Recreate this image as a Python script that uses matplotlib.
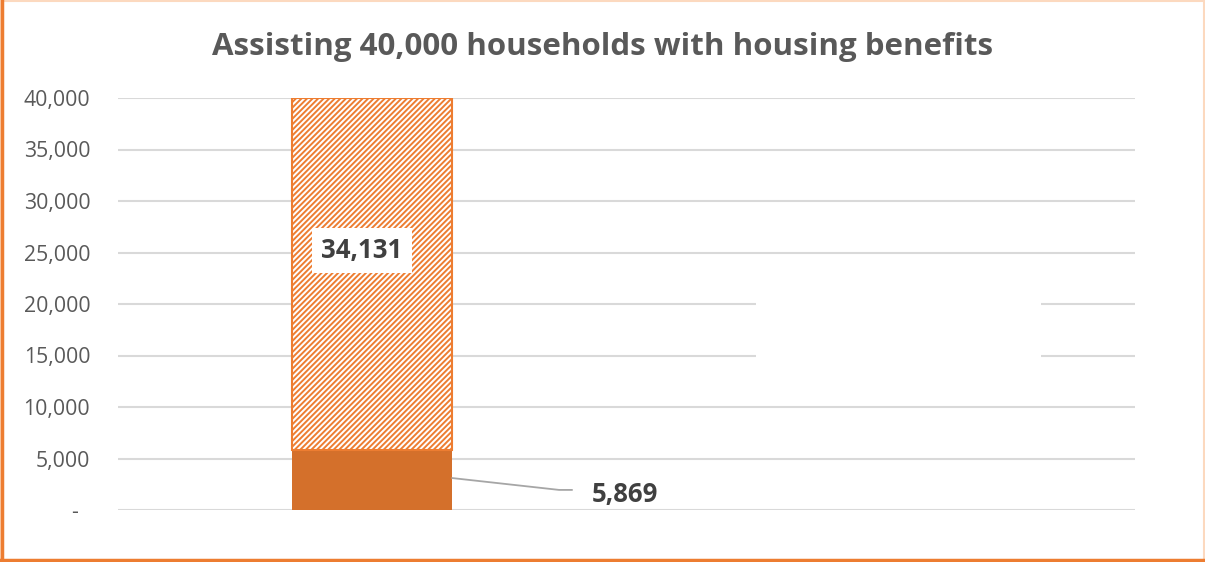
import matplotlib
matplotlib.use("Agg")
import matplotlib.pyplot as plt
from matplotlib.patches import Rectangle

categories = ["Assisted", ""]
assisted = [5869, 0]
remaining = [34131, 0]
yticks = [0, 5000, 10000, 15000, 20000, 25000, 30000, 35000, 40000]
ytick_labels = ["-\u00a0\u00a0", "5,000", "10,000", "15,000", "20,000", "25,000", "30,000", "35,000", "40,000"]
title = "Assisting 40,000 households with housing benefits"

plt.rcParams['font.family'] = ['Open Sans', 'DejaVu Sans']
plt.rcParams['hatch.linewidth'] = 1.4

W, H = 1205, 562
fig = plt.figure(figsize=(W / 100, H / 100), dpi=100)
ax = fig.add_axes([118 / W, 1 - 510 / H, (1135 - 118) / W, (510 - 98) / H])

x = list(range(len(categories)))
solid = "#D4702B"
light = "#ED7D31"
bw = 0.315
ax.bar(x[:1], assisted[:1], width=bw, color=solid, zorder=3)
ax.bar(x[:1], remaining[:1], bottom=assisted[:1], width=bw, facecolor="white",
       edgecolor=light, hatch="//////", linewidth=1.5, zorder=3)

ax.set_xlim(-0.5, 1.5)
ax.set_ylim(0, 40000)
ax.set_yticks(yticks)
ax.set_yticklabels(ytick_labels, color="#595959", fontsize=15.3)
ax.set_xticks([])
ax.tick_params(axis='y', length=0, pad=20)
for s in ax.spines.values():
    s.set_visible(False)
ax.yaxis.grid(True, color="#D9D9D9", linewidth=1.5, zorder=0)
ax.set_axisbelow(True)

# hidden box interrupting gridlines
ax.add_patch(Rectangle((0.755, 12000), 0.56, 11000, facecolor="white", edgecolor="none", zorder=1))

# label for remaining
ax.text(x[0] - 0.02, assisted[0] + remaining[0] / 2 + 2300, f"{remaining[0]:,}", ha="center", va="center",
        fontsize=18.5, fontweight="bold", color="#404040", zorder=5,
        bbox=dict(facecolor="white", edgecolor="none", boxstyle="square,pad=0.35"))

# label for assisted with leader line
x0 = x[0] + bw / 2
ax.plot([x0, x0 + 0.21, x0 + 0.235], [3100, 1950, 1950], color="#A6A6A6", linewidth=1.3, zorder=4)
ax.text(x0 + 0.275, 1500, f"{assisted[0]:,}", ha="left", va="center", fontsize=18.5,
        fontweight="bold", color="#404040", zorder=5)

fig.text(0.5, 1 - 47 / H, title, ha="center", va="center", fontsize=22.5,
         fontweight="bold", color="#595959")

# border
fig.add_artist(Rectangle((0.5 / W, 1.5 / H), (W - 2) / W, (H - 2.5) / H, transform=fig.transFigure,
                         fill=False, edgecolor="#FCD9BF", linewidth=1.5))
fig.add_artist(plt.Line2D([1.5 / W, 1.5 / W], [0, 1], transform=fig.transFigure, color=light, linewidth=2.5))
fig.add_artist(plt.Line2D([0, 1], [2 / H, 2 / H], transform=fig.transFigure, color=light, linewidth=2.5))

fig.savefig("out.png", dpi=100)
